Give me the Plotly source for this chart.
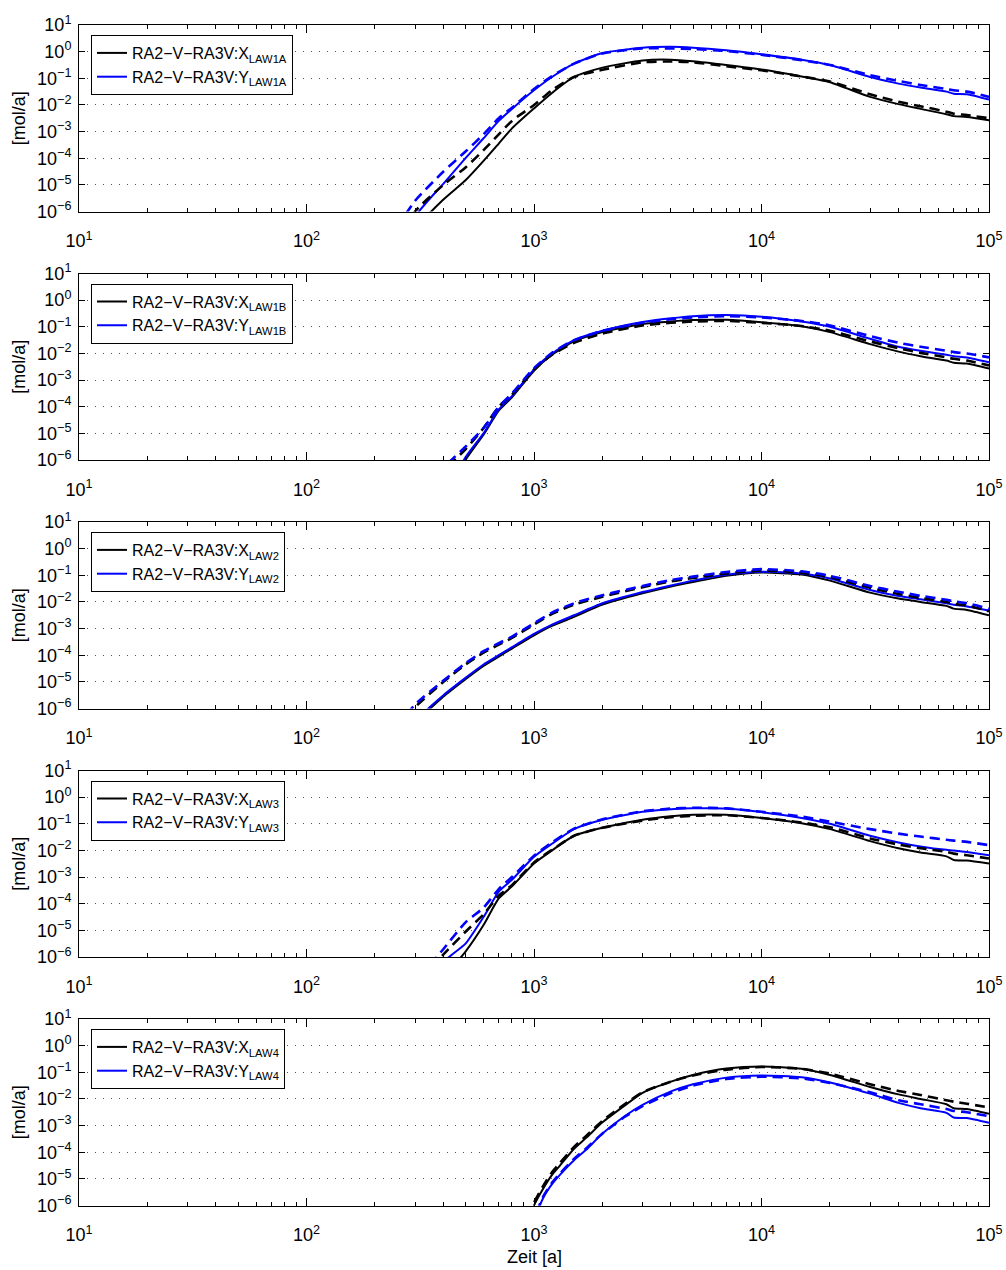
import plotly.graph_objects as go

# ---------------- data (time in years, rate in mol/a) ----------------
T_LAW1A = [250, 300, 400, 500, 600, 700, 800, 1000, 1200, 1500, 2000, 3000, 4000, 5000, 7000,
           10000, 15000, 20000, 30000, 40000, 50000, 65000, 70000, 80000, 100000]
X_LAW1A_SOLID = [1e-9, 2.0e-7, 2.82e-6, 1.48e-5, 7.9e-5, 3.55e-4, 1.32e-3, 7.4e-3, 2.82e-2, 0.112, 0.251, 0.468,
                 0.501, 0.437, 0.316, 0.214, 0.117, 0.0708, 0.02, 0.0107, 7.1e-3, 4.47e-3, 3.8e-3, 3.55e-3, 2.63e-3]
X_LAW1A_DASHED = [6.3e-8, 1.0e-6, 1.0e-5, 4.47e-5, 2.0e-4, 7.9e-4, 2.51e-3, 1.0e-2, 3.55e-2, 0.112, 0.209,
                  0.398, 0.427, 0.398, 0.282, 0.2, 0.117, 0.0759, 0.0251, 0.0132, 8.9e-3, 5.6e-3, 4.68e-3, 4.17e-3, 3.16e-3]
Y_LAW1A_SOLID = [1e-8, 6.3e-7, 1.12e-5, 1.0e-4, 5.6e-4, 2.51e-3, 7.1e-3, 3.55e-2, 0.112, 0.355, 0.891, 1.41,
                 1.51, 1.41, 1.12, 0.794, 0.501, 0.316, 0.112, 0.0631, 0.0447, 0.0316, 0.0263, 0.0251, 0.0158]
Y_LAW1A_DASHED = [2.5e-7, 2.51e-6, 3.16e-5, 1.78e-4, 7.9e-4, 3.16e-3, 7.9e-3, 3.98e-2, 0.12, 0.355, 0.851, 1.32,
                  1.32, 1.26, 1.05, 0.759, 0.479, 0.316, 0.132, 0.0794, 0.0562, 0.0398, 0.0355, 0.0316, 0.02]

T_LAW1B = [350, 400, 500, 600, 700, 800, 1000, 1200, 1500, 2000, 3000, 4000, 5000, 7000,
           10000, 15000, 20000, 30000, 40000, 50000, 65000, 70000, 80000, 100000]
X_LAW1B_SOLID = [2.5e-9, 2.5e-8, 1.0e-6, 8.9e-6, 7.1e-5, 2.24e-4, 2.24e-3, 8.9e-3, 2.82e-2, 6.3e-2, 0.126, 0.158,
                 0.178, 0.182, 0.148, 0.105, 0.0631, 0.0224, 0.0117, 7.9e-3, 5.4e-3, 4.47e-3, 4.17e-3, 2.69e-3]
X_LAW1B_DASHED = [6.3e-8, 4.0e-7, 2.51e-6, 1.58e-5, 1.0e-4, 2.82e-4, 2.51e-3, 8.9e-3, 2.51e-2, 5.6e-2, 0.112, 0.141,
                  0.158, 0.166, 0.141, 0.107, 0.0708, 0.0282, 0.0158, 0.0105, 7.1e-3, 6.3e-3, 5.4e-3, 3.55e-3]
Y_LAW1B_SOLID = [3.2e-9, 3.2e-8, 1.26e-6, 1.0e-5, 7.9e-5, 2.51e-4, 2.51e-3, 1.0e-2, 3.16e-2, 7.1e-2, 0.151, 0.209,
                 0.251, 0.275, 0.24, 0.158, 0.1, 0.0355, 0.0178, 0.0126, 8.9e-3, 7.9e-3, 7.1e-3, 4.68e-3]
Y_LAW1B_DASHED = [7.9e-8, 5.0e-7, 3.16e-6, 1.58e-5, 1.0e-4, 3.16e-4, 2.82e-3, 1.05e-2, 3.16e-2, 7.1e-2, 0.141, 0.191,
                  0.224, 0.251, 0.224, 0.166, 0.112, 0.0447, 0.0251, 0.0178, 0.0126, 0.0112, 0.01, 7.1e-3]

T_LAW2 = [250, 300, 400, 500, 600, 700, 800, 1000, 1200, 1500, 2000, 3000, 4000, 5000, 7000,
          10000, 15000, 20000, 30000, 40000, 50000, 65000, 70000, 80000, 100000]
X_LAW2_SOLID = [1e-8, 2.51e-7, 2.82e-6, 1.26e-5, 3.98e-5, 8.9e-5, 1.78e-4, 5.6e-4, 1.26e-3, 2.75e-3, 7.9e-3, 2.09e-2,
                3.8e-2, 5.6e-2, 9.5e-2, 0.126, 0.107, 0.0631, 0.0224, 0.0135, 0.01, 7.1e-3, 5.6e-3, 5.0e-3, 3.16e-3]
X_LAW2_DASHED = [1.58e-7, 1.12e-6, 1.0e-5, 4.47e-5, 1.26e-4, 2.51e-4, 4.47e-4, 1.41e-3, 3.55e-3, 7.9e-3, 1.58e-2,
                 3.55e-2, 5.9e-2, 7.9e-2, 0.117, 0.151, 0.126, 0.0851, 0.0339, 0.02, 0.0141, 0.01, 8.5e-3, 7.4e-3, 4.47e-3]
Y_LAW2_SOLID = [1e-8, 3.16e-7, 3.16e-6, 1.41e-5, 4.47e-5, 1.0e-4, 2.0e-4, 6.3e-4, 1.41e-3, 3.16e-3, 8.9e-3, 2.34e-2,
                4.17e-2, 6.3e-2, 0.105, 0.135, 0.117, 0.0759, 0.0282, 0.0166, 0.0126, 8.9e-3, 7.9e-3, 6.8e-3, 4.79e-3]
Y_LAW2_DASHED = [2.0e-7, 1.41e-6, 1.12e-5, 5.0e-5, 1.41e-4, 2.82e-4, 5.0e-4, 1.58e-3, 3.98e-3, 8.9e-3, 1.78e-2,
                 3.98e-2, 6.6e-2, 8.9e-2, 0.132, 0.17, 0.141, 0.0955, 0.0398, 0.024, 0.017, 0.012, 0.0105, 8.9e-3, 5.5e-3]

T_LAW3 = [350, 400, 500, 600, 700, 800, 1000, 1200, 1500, 2000, 3000, 4000, 5000, 7000,
          10000, 15000, 20000, 30000, 40000, 50000, 65000, 70000, 80000, 100000]
X_LAW3_SOLID = [1e-8, 1.58e-7, 1.58e-6, 1.58e-5, 1.58e-4, 4.47e-4, 3.24e-3, 1.0e-2, 3.55e-2, 7.1e-2, 0.141, 0.191,
                0.219, 0.219, 0.166, 0.105, 0.0631, 0.0224, 0.012, 8.3e-3, 6.0e-3, 4.37e-3, 4.17e-3, 3.24e-3]
X_LAW3_DASHED = [4.0e-7, 1.26e-6, 8.9e-6, 3.98e-5, 2.0e-4, 5.0e-4, 3.55e-3, 1.05e-2, 3.55e-2, 7.1e-2, 0.132, 0.178,
                 0.2, 0.209, 0.166, 0.112, 0.0741, 0.0282, 0.0166, 0.012, 8.9e-3, 7.6e-3, 6.6e-3, 5.0e-3]
Y_LAW3_SOLID = [3.16e-8, 6.3e-7, 3.16e-6, 3.16e-5, 2.82e-4, 7.9e-4, 5.75e-3, 1.78e-2, 6.3e-2, 0.141, 0.282, 0.355,
                0.38, 0.372, 0.275, 0.166, 0.1, 0.0355, 0.02, 0.0141, 0.0105, 0.01, 8.7e-3, 6.6e-3]
Y_LAW3_DASHED = [5.0e-7, 2.0e-6, 2.0e-5, 7.1e-5, 3.55e-4, 1.0e-3, 6.3e-3, 2.0e-2, 6.6e-2, 0.148, 0.295, 0.372,
                 0.398, 0.38, 0.282, 0.186, 0.12, 0.0631, 0.0427, 0.0331, 0.0251, 0.0234, 0.0209, 0.0158]

T_LAW4 = [900, 1000, 1100, 1200, 1300, 1500, 1700, 2000, 2500, 3000, 4000, 5000, 7000,
          10000, 15000, 20000, 30000, 40000, 50000, 65000, 70000, 80000, 100000]
X_LAW4_SOLID = [3.16e-8, 1.0e-6, 4.47e-6, 1.41e-5, 3.16e-5, 1.35e-4, 3.55e-4, 1.32e-3, 5.6e-3, 1.7e-2, 4.47e-2,
                7.9e-2, 0.138, 0.166, 0.135, 0.0794, 0.0282, 0.0148, 0.01, 6.3e-3, 4.47e-3, 4.17e-3, 2.75e-3]
X_LAW4_DASHED = [1e-7, 1.26e-6, 5.6e-6, 1.78e-5, 3.98e-5, 1.58e-4, 4.17e-4, 1.51e-3, 6.3e-3, 1.78e-2, 4.47e-2,
                 7.6e-2, 0.126, 0.158, 0.135, 0.0891, 0.0355, 0.02, 0.0141, 8.9e-3, 7.9e-3, 6.6e-3, 4.79e-3]
Y_LAW4_SOLID = [1e-8, 2.51e-7, 2.0e-6, 6.3e-6, 1.41e-5, 5.0e-5, 1.26e-4, 5.0e-4, 2.24e-3, 6.0e-3, 1.91e-2,
                3.55e-2, 6.3e-2, 7.6e-2, 6.5e-2, 4.17e-2, 1.58e-2, 7.1e-3, 4.47e-3, 3.0e-3, 2.0e-3, 1.91e-3, 1.26e-3]
Y_LAW4_DASHED = [1e-8, 3.16e-7, 2.24e-6, 7.1e-6, 1.58e-5, 5.6e-5, 1.41e-4, 5.0e-4, 2.09e-3, 5.4e-3, 1.66e-2,
                 3.16e-2, 5.6e-2, 6.8e-2, 5.9e-2, 3.98e-2, 1.78e-2, 8.9e-3, 6.3e-3, 4.17e-3, 3.55e-3, 3.16e-3, 2.24e-3]

CASES = ["LAW1A", "LAW1B", "LAW2", "LAW3", "LAW4"]
SERIES_PREFIX = "RA2\u2212V\u2212RA3V:"
X_TICKS = [1e1, 1e2, 1e3, 1e4, 1e5]
X_TICK_EXP = [1, 2, 3, 4, 5]
Y_TICKS = [1e-6, 1e-5, 1e-4, 1e-3, 1e-2, 1e-1, 1e0, 1e1]
Y_TICK_EXP = ["\u22126", "\u22125", "\u22124", "\u22123", "\u22122", "\u22121", "0", "1"]
X_TITLE = "Zeit [a]"
Y_TITLE = "[mol/a]"

PANELS = [
    (T_LAW1A, X_LAW1A_SOLID, X_LAW1A_DASHED, Y_LAW1A_SOLID, Y_LAW1A_DASHED),
    (T_LAW1B, X_LAW1B_SOLID, X_LAW1B_DASHED, Y_LAW1B_SOLID, Y_LAW1B_DASHED),
    (T_LAW2, X_LAW2_SOLID, X_LAW2_DASHED, Y_LAW2_SOLID, Y_LAW2_DASHED),
    (T_LAW3, X_LAW3_SOLID, X_LAW3_DASHED, Y_LAW3_SOLID, Y_LAW3_DASHED),
    (T_LAW4, X_LAW4_SOLID, X_LAW4_DASHED, Y_LAW4_SOLID, Y_LAW4_DASHED),
]

# ---------------- styling / layout ----------------
FONT = "Liberation Sans, Arial, Helvetica, sans-serif"
W, H = 1006, 1270
LEFT, RIGHT = 79, 989
TOPS = [25, 273.5, 522, 770.5, 1019]
PH = 186.5
BLACK = "#000000"
BLUE = "#0000ff"
DASH = "10px,6px"
TICK_FS = 18
TITLE_FS = 18
LEGEND_FS = 16

minor_vals = [k * 10 ** e for e in range(1, 5) for k in range(2, 10)]
xticktext = ["10<sup>%d</sup>" % e for e in X_TICK_EXP]
yticktext = ["10<sup>%s</sup>" % e for e in Y_TICK_EXP]

fig = go.Figure()
layout = dict(
    width=W, height=H, margin=dict(l=0, r=0, t=0, b=0, autoexpand=False),
    paper_bgcolor="white", plot_bgcolor="white",
    font=dict(family=FONT, size=LEGEND_FS, color="black"),
    showlegend=True, annotations=[],
)

for i, (case, (t, xs, xd, ys, yd)) in enumerate(zip(CASES, PANELS)):
    n = "" if i == 0 else str(i + 1)
    xa, ya = "x" + n, "y" + n
    lg = "legend" + n
    top = TOPS[i]
    fig.add_trace(go.Scatter(x=t, y=xs, mode="lines", xaxis=xa, yaxis=ya, legend=lg,
                             name=SERIES_PREFIX + "X<sub>" + case + "</sub>",
                             line=dict(color=BLACK, width=2, shape="spline", smoothing=0.6)))
    fig.add_trace(go.Scatter(x=t, y=ys, mode="lines", xaxis=xa, yaxis=ya, legend=lg,
                             name=SERIES_PREFIX + "Y<sub>" + case + "</sub>",
                             line=dict(color=BLUE, width=2, shape="spline", smoothing=0.6)))
    fig.add_trace(go.Scatter(x=t, y=xd, mode="lines", xaxis=xa, yaxis=ya, showlegend=False,
                             line=dict(color=BLACK, width=2.6, dash=DASH, shape="spline", smoothing=0.6)))
    fig.add_trace(go.Scatter(x=t, y=yd, mode="lines", xaxis=xa, yaxis=ya, showlegend=False,
                             line=dict(color=BLUE, width=2.6, dash=DASH, shape="spline", smoothing=0.6)))

    layout["xaxis" + n] = dict(
        type="log", range=[1, 5], domain=[LEFT / W, RIGHT / W], anchor=ya, automargin=False,
        showline=True, linecolor="black", linewidth=1, mirror="allticks",
        ticks="inside", ticklen=8, tickwidth=1, tickcolor="black",
        tickmode="array", tickvals=X_TICKS, ticktext=xticktext,
        tickfont=dict(family=FONT, size=TICK_FS, color="black"), ticklabelstandoff=13,
        showgrid=False, zeroline=False,
        minor=dict(ticks="inside", ticklen=4, tickwidth=1, tickcolor="black",
                   tickmode="array", tickvals=minor_vals, showgrid=False),
    )
    layout["yaxis" + n] = dict(
        type="log", range=[-6, 1], domain=[1 - (top + PH) / H, 1 - top / H], anchor=xa, automargin=False,
        showline=True, linecolor="black", linewidth=1, mirror="allticks",
        ticks="inside", ticklen=6, tickwidth=1, tickcolor="black",
        tickmode="array", tickvals=Y_TICKS, ticktext=yticktext,
        tickfont=dict(family=FONT, size=TICK_FS, color="black"), ticklabelstandoff=3,
        showgrid=True, gridcolor="#555555", gridwidth=1, griddash="1px,7px", zeroline=False,
    )
    layout[lg] = dict(
        x=(LEFT + 12) / W, y=1 - (top + 10) / H, xanchor="left", yanchor="top",
        bgcolor="white", bordercolor="black", borderwidth=1,
        font=dict(family=FONT, size=LEGEND_FS, color="black"), tracegroupgap=0,
        itemwidth=30,
    )
    layout["annotations"].append(dict(
        text=Y_TITLE, textangle=-90, x=19 / W, y=1 - (top + PH / 2) / H,
        xref="paper", yref="paper", showarrow=False, xanchor="center", yanchor="middle",
        font=dict(family=FONT, size=TITLE_FS, color="black"),
    ))

layout["annotations"].append(dict(
    text=X_TITLE, x=(LEFT + RIGHT) / 2 / W, y=1 - 1257 / H, xref="paper", yref="paper",
    showarrow=False, xanchor="center", yanchor="middle",
    font=dict(family=FONT, size=TITLE_FS, color="black"),
))

fig.update_layout(**layout)
fig.write_html("out.html", config={"displayModeBar": False},
               post_script="document.body.style.margin='0px';document.body.style.padding='0px';")
